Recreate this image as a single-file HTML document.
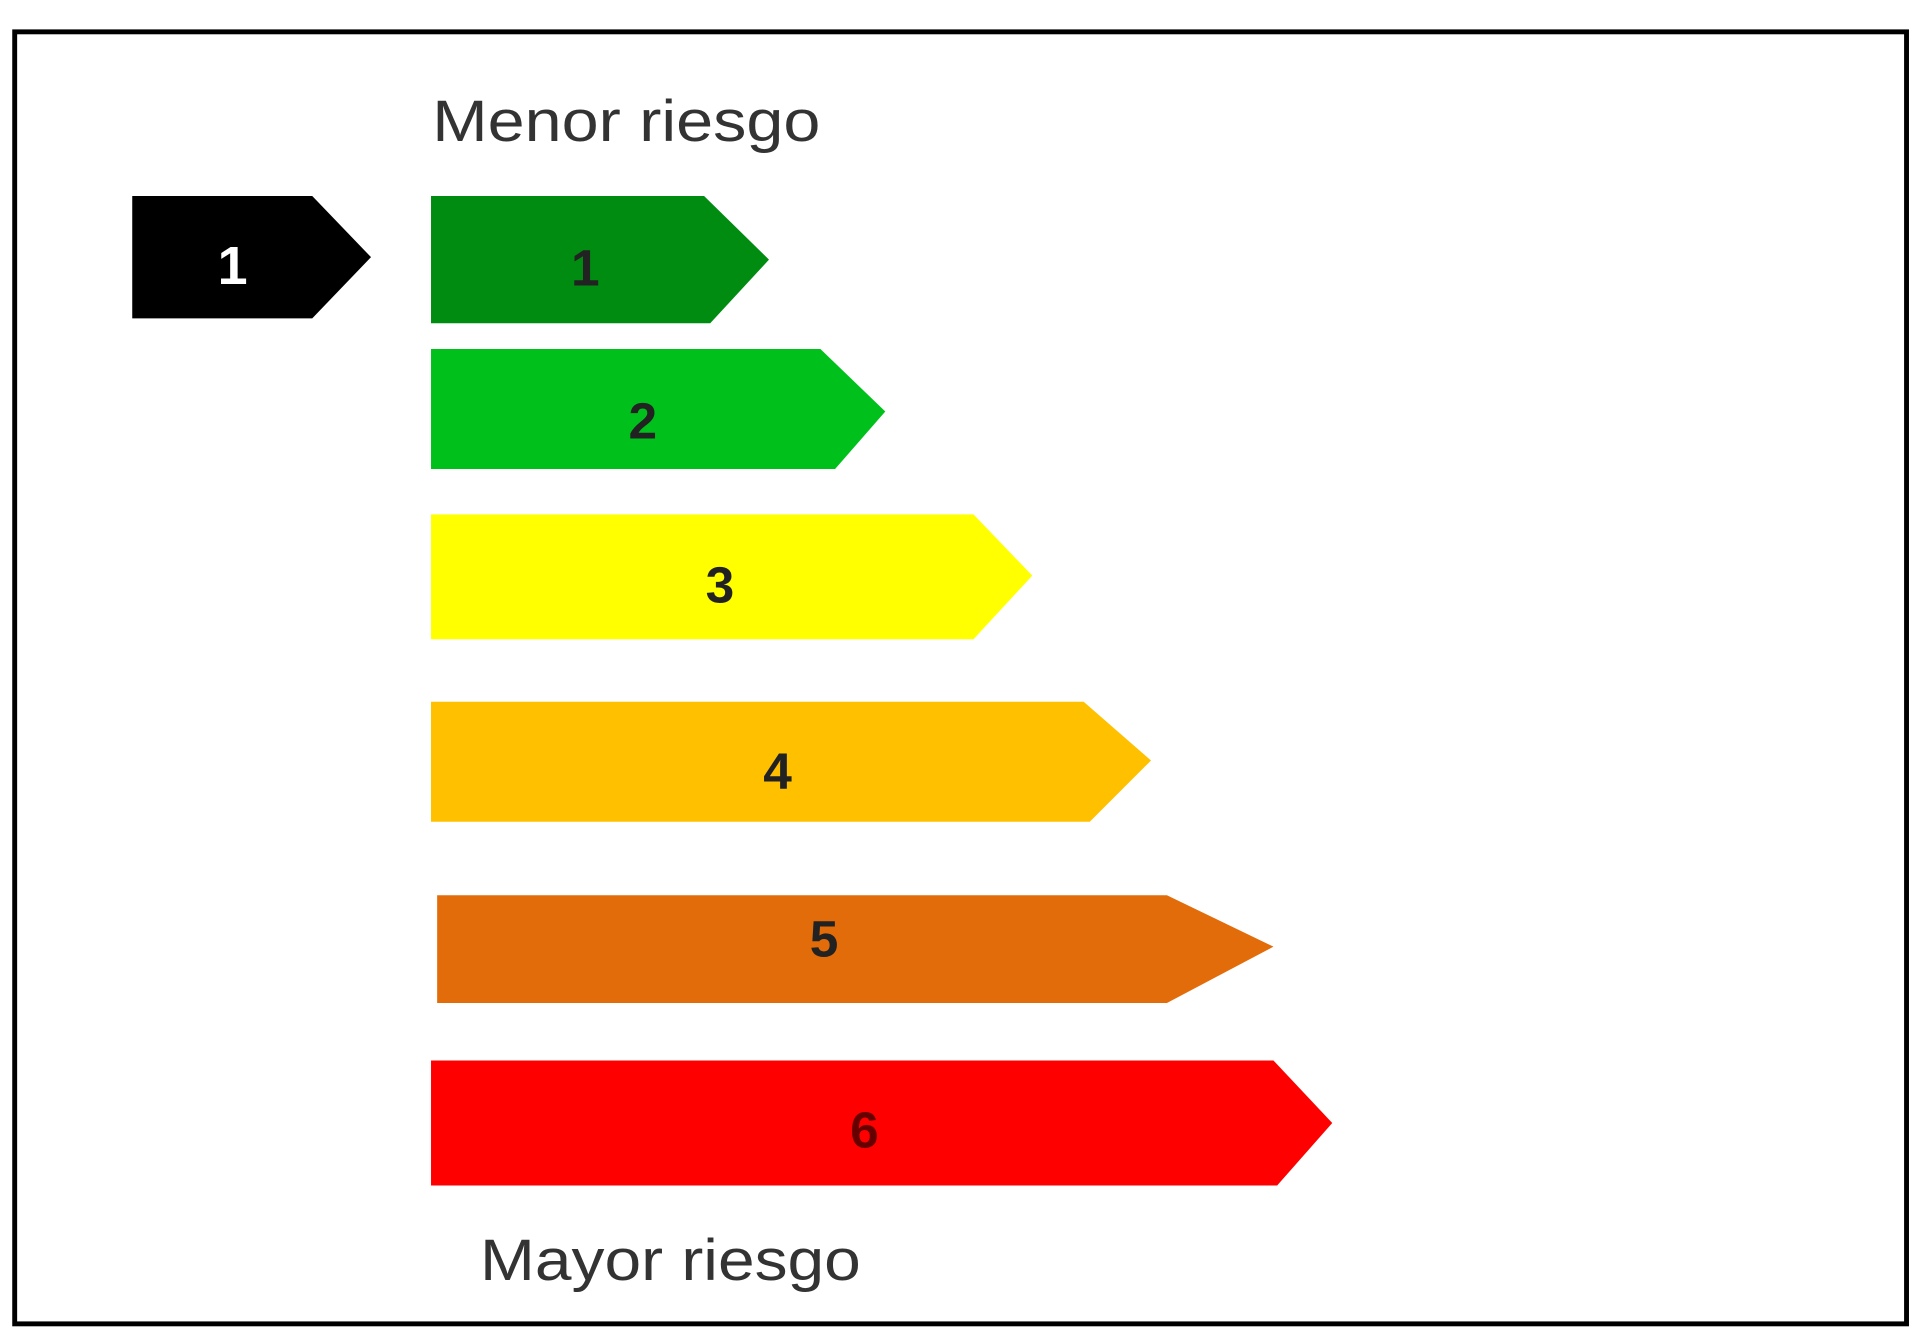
<!DOCTYPE html>
<html><head><meta charset="utf-8"><style>
html,body{margin:0;padding:0;background:#fff;}
svg{display:block;}
text{font-family:"Liberation Sans",sans-serif;}
</style></head><body>
<svg width="1920" height="1341" viewBox="0 0 1568 1095" preserveAspectRatio="none" xmlns="http://www.w3.org/2000/svg">
<rect x="0" y="0" width="1568" height="1095" fill="#fff"/>
<rect x="12" y="26" width="1545" height="1055" fill="none" stroke="#000" stroke-width="4"/>
<text x="353" y="115" font-size="48" fill="#333" textLength="317" lengthAdjust="spacingAndGlyphs">Menor riesgo</text>
<polygon points="108,160 255,160 303,210 255,260 108,260" fill="#000"/>
<text x="190" y="232" font-size="44" font-weight="bold" fill="#fff" text-anchor="middle">1</text>
<polygon points="352,160 575,160 628,212 580,264 352,264" fill="#008C10"/>
<text x="478" y="233" font-size="42" font-weight="bold" fill="#222" text-anchor="middle">1</text>
<polygon points="352,285 670,285 723,336 682,383 352,383" fill="#00C11C"/>
<text x="525" y="358" font-size="42" font-weight="bold" fill="#222" text-anchor="middle">2</text>
<polygon points="352,420 795,420 843,470 795,522 352,522" fill="#FFFF00"/>
<text x="588" y="492" font-size="42" font-weight="bold" fill="#222" text-anchor="middle">3</text>
<polygon points="352,573 885,573 940,621 890,671 352,671" fill="#FFC000"/>
<text x="635" y="644" font-size="42" font-weight="bold" fill="#222" text-anchor="middle">4</text>
<polygon points="357,731 953,731 1040,773 953,819 357,819" fill="#E36C0A"/>
<text x="673" y="781" font-size="42" font-weight="bold" fill="#222" text-anchor="middle">5</text>
<polygon points="352,866 1040,866 1088,917 1043,968 352,968" fill="#FF0000"/>
<text x="706" y="937" font-size="42" font-weight="bold" fill="#600" text-anchor="middle">6</text>
<text x="392" y="1045" font-size="48" fill="#333" textLength="311" lengthAdjust="spacingAndGlyphs">Mayor riesgo</text>
</svg>
</body></html>
